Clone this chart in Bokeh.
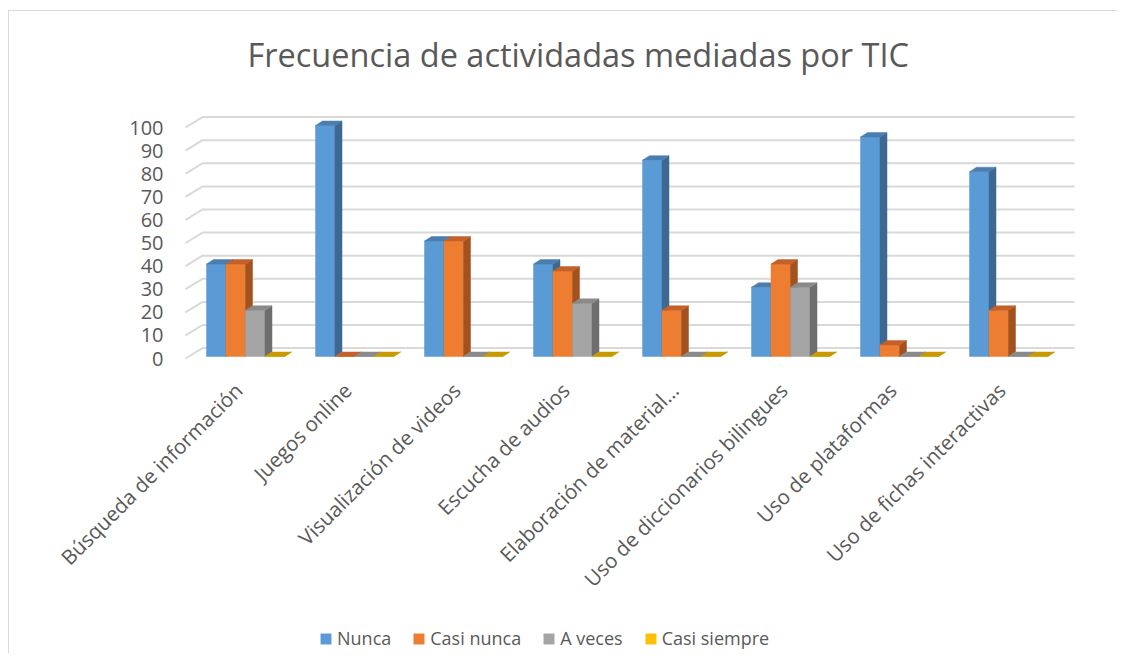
import math
from bokeh.plotting import figure
from bokeh.models import Range1d, Legend, LegendItem, ColumnDataSource
from bokeh.embed import file_html
from bokeh.resources import INLINE
from bokeh.core.properties import value

# ---------------- data ----------------
categories = [
    "Búsqueda de información",
    "Juegos online",
    "Visualización de videos",
    "Escucha de audios",
    "Elaboración de material…",
    "Uso de diccionarios bilingues",
    "Uso de plataformas",
    "Uso de fichas interactivas",
]
series_names = ["Nunca", "Casi nunca", "A veces", "Casi siempre"]
nunca = [40, 100, 50, 40, 85, 30, 95, 80]
casi_nunca = [40, 0, 50, 37, 20, 40, 5, 20]
a_veces = [20, 0, 0, 23, 0, 30, 0, 0]
casi_siempre = [0, 0, 0, 0, 0, 0, 0, 0]
y_ticks = [0, 10, 20, 30, 40, 50, 60, 70, 80, 90, 100]
y_tick_labels = ["0", "10", "20", "30", "40", "50", "60", "70", "80", "90", "100"]
title_text = "Frecuencia de actividadas mediadas por TIC"

series_values = [nunca, casi_nunca, a_veces, casi_siempre]

# ---------------- styles ----------------
front_colors = ["#5B9BD5", "#ED7D31", "#A5A5A5", "#FFC000"]
side_colors = ["#3D6891", "#A3521F", "#6E6E6E", "#B08600"]
top_colors = ["#4A7EB0", "#C4602A", "#8A8A8A", "#C99A00"]
text_color = "#595959"
grid_color = "#D9D9D9"

PX_CAT = 109.0      # pixels per category
PX_VAL = 2.31       # pixels per value unit
GROUP_PAD = 15.5 / PX_CAT
BAR_W = 19.5 / PX_CAT
BAR_DX = 7.0 / PX_CAT
BAR_DY = 4.5 / PX_VAL
BAR_BASE = 2.0 / PX_VAL
WALL_X0 = -5.5 / PX_CAT
WALL_DX = 17.0 / PX_CAT
WALL_DY = 10.4 / PX_VAL

CX, CY = 9, 11                # canvas origin in the picture (after margin + 1px border)
W, H = 1109, 643
frame_left, frame_right, frame_top, frame_bottom = CX, CX + W, 80, CY + H
x0_page, zero_page = 190.5, 358.0
label_page_y = 386.0
label_page_dx = -7.0
ylab_page_x = 163.0

p = figure(
    width=W, height=H,
    output_backend="svg", toolbar_location=None,
    x_axis_location=None, y_axis_location=None,
    x_range=Range1d((frame_left - x0_page) / PX_CAT, (frame_right - x0_page) / PX_CAT),
    y_range=Range1d((zero_page - frame_bottom) / PX_VAL, (zero_page - frame_top) / PX_VAL),
    min_border_left=0, min_border_right=0,
    min_border_top=frame_top - CY, min_border_bottom=0,
)
p.styles = {
    "margin-left": "8px", "margin-top": "10px",
    "border-left": "1px solid #D9D9D9", "border-top": "1px solid #D9D9D9",
}
p.outline_line_color = None
p.background_fill_color = "white"
p.border_fill_color = "white"
p.xgrid.visible = False
p.ygrid.visible = False

# title
p.title.text = title_text
p.title.text_font = "Open Sans"
p.title.text_font_size = "32.5px"
p.title.text_font_style = "normal"
p.title.text_color = text_color
p.title.align = "left"
p.title.offset = 247 - CX
p.title.vertical_align = "bottom"
p.title.standoff = 7

ncat = len(categories)

# gridlines: back wall + side wall
gx, gy = [], []
for v in y_ticks:
    gx.append([WALL_X0, WALL_X0 + WALL_DX, WALL_X0 + WALL_DX + ncat])
    gy.append([v, v + WALL_DY, v + WALL_DY])
p.multi_line(gx, gy, line_color=grid_color, line_width=2)

# value-axis labels
ysrc = ColumnDataSource(dict(
    x=[(ylab_page_x - x0_page) / PX_CAT] * len(y_ticks),
    y=y_ticks,
    text=y_tick_labels,
))
p.text(x="x", y="y", text="text", source=ysrc,
       text_align="right", text_baseline="middle",
       text_font=value("Open Sans"), text_font_size="20px", text_color=text_color)

# bars (pseudo 3D)
legend_items = []
for j, (name, vals) in enumerate(zip(series_names, series_values)):
    lefts, rights, bottoms, tops = [], [], [], []
    sx, sy, tx, ty = [], [], [], []
    for i, v in enumerate(vals):
        x0 = i + GROUP_PAD + j * BAR_W
        x1 = x0 + BAR_W
        y0 = BAR_BASE
        y1 = BAR_BASE + v
        lefts.append(x0); rights.append(x1); bottoms.append(y0); tops.append(y1)
        sx.append([x1, x1 + BAR_DX, x1 + BAR_DX, x1])
        sy.append([y0, y0 + BAR_DY, y1 + BAR_DY, y1])
        tx.append([x0, x1, x1 + BAR_DX, x0 + BAR_DX])
        ty.append([y1, y1, y1 + BAR_DY, y1 + BAR_DY])
    r = p.quad(left=lefts, right=rights, bottom=bottoms, top=tops,
               fill_color=front_colors[j], line_color=front_colors[j], line_width=0.5)
    p.patches(sx, sy, fill_color=side_colors[j], line_color=side_colors[j], line_width=0.5)
    p.patches(tx, ty, fill_color=top_colors[j], line_color=top_colors[j], line_width=0.5)
    legend_items.append(LegendItem(label=name, renderers=[r]))

# category labels (rotated, right end at category centre)
lab_src = ColumnDataSource(dict(
    x=[i + 0.5 + label_page_dx / PX_CAT for i in range(ncat)],
    y=[(zero_page - label_page_y) / PX_VAL] * ncat,
    text=categories,
))
p.text(x="x", y="y", text="text", source=lab_src, angle=math.pi / 4,
       text_align="right", text_baseline="middle",
       text_font=value("Open Sans"), text_font_size="20.5px", text_color=text_color)

legend = Legend(items=legend_items, orientation="horizontal",
                location=(319 - frame_left, frame_bottom - 650))
legend.label_text_font = "Open Sans"
legend.label_text_font_size = "18px"
legend.label_text_color = text_color
legend.label_height = 20
legend.glyph_width = 13
legend.glyph_height = 13
legend.label_standoff = 5
legend.spacing = 21
legend.padding = 0
legend.margin = 0
legend.border_line_color = None
legend.background_fill_alpha = 0
p.add_layout(legend)

open("out.html", "w").write(file_html(p, INLINE))
